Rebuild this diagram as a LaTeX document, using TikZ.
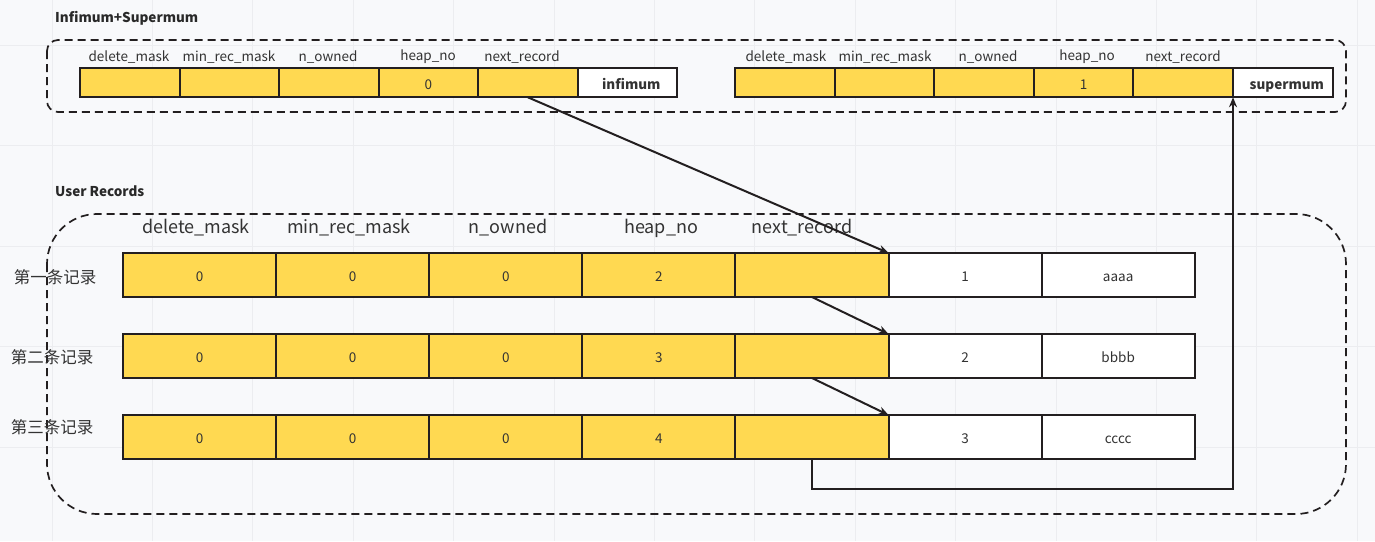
\documentclass[tikz,border=0pt]{standalone}
\usepackage{fontspec}
\setmainfont{Noto Sans CJK SC}
\usetikzlibrary{arrows.meta,calc}
\definecolor{bgc}{HTML}{F8F9FB}
\definecolor{gridc}{HTML}{ECEDF0}
\definecolor{cellfill}{HTML}{FFD951}
\definecolor{linec}{HTML}{231F20}
\definecolor{txt}{HTML}{333333}
\tikzset{
  cellbox/.style={draw=linec, line width=2pt, fill=cellfill, minimum height=#1, inner sep=0pt, outer sep=0pt, text=txt, font=\fontsize{13.5}{13.5}\selectfont, text height=13.5pt, text depth=0.5pt},
  whitebox/.style={cellbox=#1, fill=white},
  smalllab/.style={text=txt, font=\fontsize{13.5}{13.5}\selectfont, inner sep=0pt},
  biglab/.style={text=txt, font=\fontsize{18}{18}\selectfont, inner sep=0pt},
  rowlab/.style={text=txt, font=\fontsize{16.5}{16.5}\selectfont, inner sep=0pt},
  titlelab/.style={text=txt!80!black, font=\bfseries\fontsize{13.5}{13.5}\selectfont, inner sep=0pt, anchor=west},
  groupbox/.style={draw=linec, line width=1.7pt, dash pattern=on 8pt off 5pt},
  link/.style={draw=linec, line width=2pt, -{Stealth[length=10pt,width=8pt]}}
}
\begin{document}
\begin{tikzpicture}[x=1pt,y=-1pt]
\useasboundingbox (0,0) rectangle (1375,541);
\fill[bgc] (0,0) rectangle (1375,541);
\foreach \k in {0,...,13} {\draw[gridc, line width=1pt] ({52+100.4*\k},0) -- ({52+100.4*\k},541);}
\foreach \k in {0,...,4} {\draw[gridc, line width=1pt] (0,{45.5+100.4*\k}) -- (1375,{45.5+100.4*\k});}

% titles
\node[titlelab] (t1) at (55,18) {Infimum+Supermum};
\node[titlelab] (t2) at (55,191) {User Records};

% group boxes
\draw[groupbox, rounded corners=11pt] (47,40) rectangle (1346,112);
\draw[groupbox, rounded corners=50pt] (47,214) rectangle (1346,514);

% infimum record
\foreach \i/\v in {1/,2/,3/,4/0,5/} {
  \node[cellbox=29.5pt, minimum width=99.5pt] (inf\i) at ({80+99.5*(\i-0.5)},82.5) {\v};
}
\node[whitebox=29.5pt, minimum width=99.5pt] (inf6) at ({80+99.5*5.5},82.5) {\hspace{8pt}\bfseries infimum};
% supermum record
\foreach \i/\v in {1/,2/,3/,4/1,5/} {
  \node[cellbox=29.5pt, minimum width=99.6pt] (sup\i) at ({735+99.6*(\i-0.5)},82.5) {\v};
}
\node[whitebox=29.5pt, minimum width=99.6pt] (sup6) at ({735+99.6*5.5},82.5) {\hspace{8pt}\bfseries supermum};

% top labels
\foreach \p/\x/\t in {a/129/delete\_mask, b/229/min\_rec\_mask, c/328/n\_owned, d/428/heap\_no, e/522/next\_record,
                      f/786/delete\_mask, g/885/min\_rec\_mask, h/988/n\_owned, i/1087/heap\_no, j/1183/next\_record} {
  \node[smalllab] (lab\p) at (\x,57) {\t};
}

% bottom header labels
\foreach \p/\x/\t in {a/196/delete\_mask, b/349/min\_rec\_mask, c/508/n\_owned, d/661/heap\_no, e/802/next\_record} {
  \node[biglab] (hdr\p) at (\x,228) {\t};
}

% user records
\foreach \r/\y/\h/\id/\dat in {1/275/2/1/aaaa, 2/356/3/2/bbbb, 3/437/4/3/cccc} {
  \foreach \i/\v in {1/0,2/0,3/0,4/\h,5/} {
    \node[cellbox=44pt, minimum width=153.1pt] (r\r c\i) at ({123+153.1*(\i-0.5)},\y) {\v};
  }
  \node[whitebox=44pt, minimum width=153.1pt] (r\r c6) at ({123+153.1*5.5},\y) {\id};
  \node[whitebox=44pt, minimum width=153.1pt] (r\r c7) at ({123+153.1*6.5},\y) {\dat};
}

% row labels
\node[rowlab] (rl1) at (55,277) {第一条记录};
\node[rowlab] (rl2) at (52,357) {第二条记录};
\node[rowlab] (rl3) at (52,427) {第三条记录};

% links
\draw[link] (inf5.south) -- (r1c6.north west);
\draw[link] (r1c5.south) -- (r2c6.north west);
\draw[link] (r2c5.south) -- (r3c6.north west);
\coordinate (bend1) at ($(r3c5.south)+(0,30)$);
\draw[link] (r3c5.south) -- (bend1) -| (sup6.south west);
\end{tikzpicture}
\end{document}
